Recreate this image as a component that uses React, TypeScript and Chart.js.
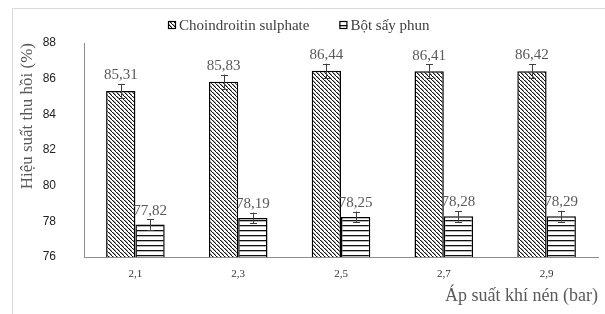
import React, { useEffect, useRef } from "react";
import { Chart, registerables } from "chart.js";

Chart.register(...registerables);

const categories = ["2,1", "2,3", "2,5", "2,7", "2,9"];
const seriesNames = ["Choindroitin sulphate", "Bột sấy phun"];
const chondroitin = [85.31, 85.83, 86.44, 86.41, 86.42];
const bot = [77.82, 78.19, 78.25, 78.28, 78.29];
const chondroitinErr = [0.4, 0.4, 0.4, 0.4, 0.4];
const botErr = [0.3, 0.3, 0.3, 0.3, 0.3];
const yTicks = [76, 78, 80, 82, 84, 86, 88];

const SERIF = "'Liberation Serif', 'Times New Roman', serif";
const SANS = "'Liberation Sans', Arial, sans-serif";

function diagPattern(): CanvasPattern | string {
  const c = document.createElement("canvas");
  c.width = 4;
  c.height = 4;
  const g = c.getContext("2d");
  if (!g) return "#888";
  g.fillStyle = "#fff";
  g.fillRect(0, 0, 4, 4);
  g.fillStyle = "#111";
  for (let i = 0; i < 4; i++) {
    g.fillRect(i, i, 1.4, 1);
  }
  return g.createPattern(c, "repeat") || "#888";
}

function horizPattern(): CanvasPattern | string {
  const c = document.createElement("canvas");
  c.width = 4;
  c.height = 5;
  const g = c.getContext("2d");
  if (!g) return "#ccc";
  g.fillStyle = "#fff";
  g.fillRect(0, 0, 4, 5);
  g.fillStyle = "#111";
  g.fillRect(0, 0, 4, 1.3);
  return g.createPattern(c, "repeat") || "#ccc";
}

const errorPlugin = {
  id: "errorBarsLabels",
  afterDatasetsDraw(chart: any) {
    const ctx = chart.ctx;
    const y = chart.scales.y;
    const errs = [chondroitinErr, botErr];
    chart.data.datasets.forEach((ds: any, di: number) => {
      const meta = chart.getDatasetMeta(di);
      meta.data.forEach((bar: any, i: number) => {
        const v = ds.data[i];
        const e = errs[di][i];
        const yt = y.getPixelForValue(v + e);
        const yb = y.getPixelForValue(v - e);
        const x = Math.round(bar.x) + 0.5;
        ctx.save();
        ctx.strokeStyle = "#404040";
        ctx.lineWidth = 1;
        ctx.beginPath();
        ctx.moveTo(x, yt);
        ctx.lineTo(x, yb);
        ctx.moveTo(x - 3.5, Math.round(yt) + 0.5);
        ctx.lineTo(x + 3.5, Math.round(yt) + 0.5);
        ctx.moveTo(x - 3.5, Math.round(yb) + 0.5);
        ctx.lineTo(x + 3.5, Math.round(yb) + 0.5);
        ctx.stroke();
        ctx.fillStyle = "#595959";
        ctx.font = `15px ${SERIF}`;
        ctx.textAlign = "center";
        ctx.textBaseline = "bottom";
        ctx.fillText(v.toFixed(2).replace(".", ","), bar.x, yt - 1);
        ctx.restore();
      });
    });
  },
};

const legendPlugin = {
  id: "serifLegend",
  afterDraw(chart: any) {
    const ctx = chart.ctx;
    ctx.save();
    ctx.font = `15px ${SERIF}`;
    ctx.textBaseline = "middle";
    ctx.textAlign = "left";
    const box = 8;
    const gapBox = 3;
    const gapItem = 30;
    const widths = chart.data.datasets.map((d: any) => ctx.measureText(d.label).width);
    const total =
      widths.reduce((a: number, w: number) => a + w + box + gapBox, 0) +
      gapItem * (widths.length - 1);
    let x = Math.round(299 - total / 2);
    const cy = 25;
    chart.data.datasets.forEach((d: any, i: number) => {
      ctx.fillStyle = d.backgroundColor;
      ctx.fillRect(x, cy - box / 2, box, box);
      ctx.strokeStyle = "#000";
      ctx.lineWidth = 1.2;
      ctx.strokeRect(x + 0.5, cy - box / 2 + 0.5, box - 1, box - 1);
      ctx.fillStyle = "#404040";
      ctx.fillText(d.label, x + box + gapBox, cy + 1);
      x += box + gapBox + widths[i] + gapItem;
    });
    ctx.restore();
  },
};

const framePlugin = {
  id: "frame",
  beforeDraw(chart: any) {
    const ctx = chart.ctx;
    ctx.save();
    ctx.fillStyle = "#fff";
    ctx.fillRect(0, 0, chart.width, chart.height);
    ctx.strokeStyle = "#d9d9d9";
    ctx.lineWidth = 1;
    ctx.beginPath();
    ctx.moveTo(12.5, chart.height);
    ctx.lineTo(12.5, 8.5);
    ctx.lineTo(chart.width, 8.5);
    ctx.stroke();
    ctx.restore();
  },
};

export default function App() {
  const ref = useRef<HTMLCanvasElement | null>(null);
  useEffect(() => {
    if (!ref.current) return;
    const chart = new Chart(ref.current, {
      type: "bar",
      data: {
        labels: categories,
        datasets: [
          {
            label: seriesNames[0],
            data: chondroitin,
            backgroundColor: diagPattern() as any,
            borderColor: "#000",
            borderWidth: 1.5,
            borderSkipped: false,
          },
          {
            label: seriesNames[1],
            data: bot,
            backgroundColor: horizPattern() as any,
            borderColor: "#000",
            borderWidth: 1.5,
            borderSkipped: false,
          },
        ],
      },
      options: {
        responsive: false,
        animation: false,
        layout: { padding: { left: 14, right: 7, top: 43, bottom: 0 } },
        datasets: {
          bar: { categoryPercentage: 0.57, barPercentage: 1.0 },
        } as any,
        plugins: {
          tooltip: { enabled: false },
          legend: { display: false },
        },
        scales: {
          x: {
            grid: { display: false },
            border: { display: true, color: "#8c8c8c", width: 1 },
            ticks: {
              color: "#333",
              font: { family: SERIF, size: 11 },
              padding: 3,
            },
            title: {
              display: true,
              text: "Áp suất khí nén (bar)",
              align: "end",
              color: "#595959",
              font: { family: SERIF, size: 18 },
              padding: { top: 0, bottom: 7 },
            },
            afterFit(scale: any) {
              scale.height = 57;
            },
          },
          y: {
            min: 76,
            max: 88,
            afterBuildTicks(scale: any) {
              scale.ticks = yTicks.map((v) => ({ value: v }));
            },
            grid: { display: false },
            border: { display: true, color: "#8c8c8c", width: 1 },
            ticks: {
              color: "#222",
              font: { family: SANS, size: 12 },
              padding: 20,
            },
            title: {
              display: true,
              text: "Hiệu suất thu hồi (%)",
              align: "end",
              color: "#595959",
              font: { family: SERIF, size: 17 },
              padding: { top: 3, bottom: 0 },
            },
            afterFit(scale: any) {
              scale.width = 70;
            },
          },
        },
      } as any,
      plugins: [framePlugin, errorPlugin, legendPlugin],
    });
    return () => chart.destroy();
  }, []);
  return (
    <div style={{ position: "absolute", left: 0, top: 0 }}>
      <canvas ref={ref} width={605} height={314} />
    </div>
  );
}
